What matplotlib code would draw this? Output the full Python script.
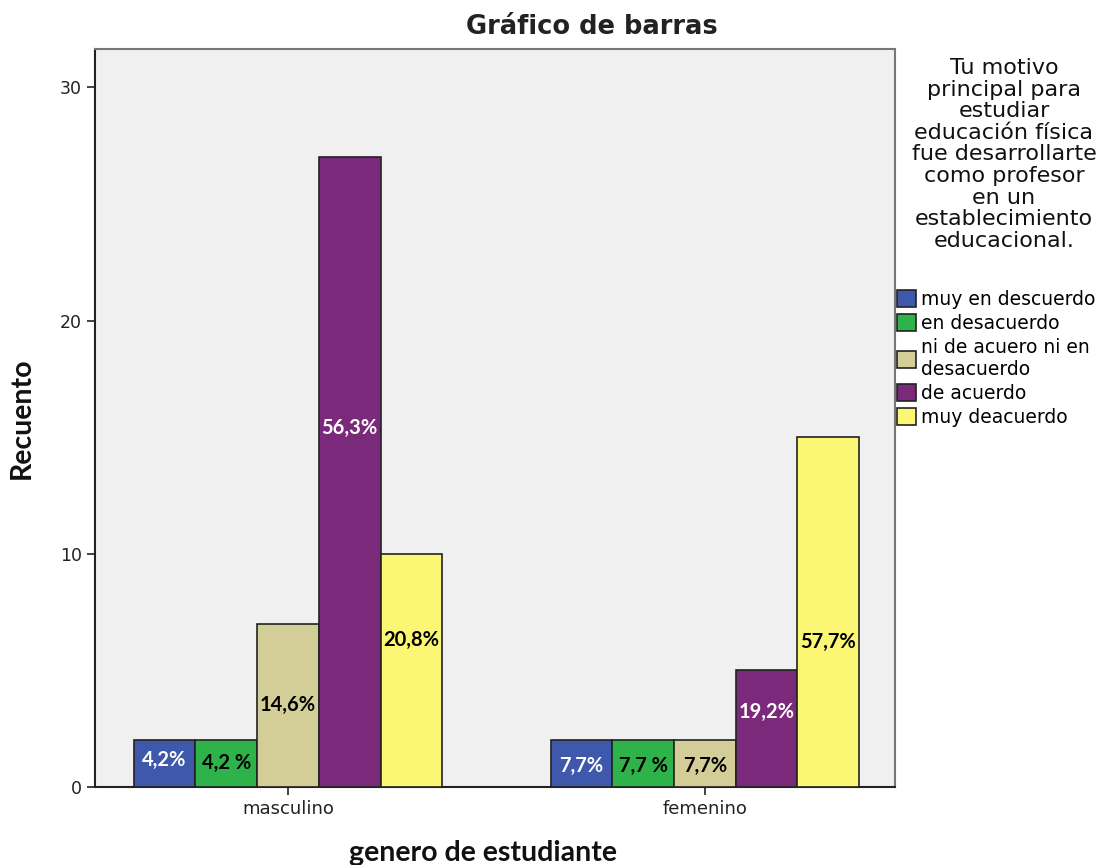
import matplotlib.pyplot as plt
import numpy as np

# data
groups = ["masculino", "femenino"]
categories = ["muy en descuerdo", "en desacuerdo", "ni de acuero ni en\ndesacuerdo",
              "de acuerdo", "muy deacuerdo"]
counts = {
    "masculino": [2, 2, 7, 27, 10],
    "femenino": [2, 2, 2, 5, 15],
}
labels = {
    "masculino": ["4,2%", "4,2 %", "14,6%", "56,3%", "20,8%"],
    "femenino": ["7,7%", "7,7 %", "7,7%", "19,2%", "57,7%"],
}
# vertical position of the percent labels (count units)
label_y = {
    "masculino": [1.15, 1.05, 3.5, 15.4, 6.3],
    "femenino": [0.9, 0.9, 0.9, 3.2, 6.2],
}
colors = ["#3e58ac", "#2db34a", "#d3ce97", "#7b2a7b", "#fbf673"]
text_colors = ["white", "black", "black", "white", "black"]

fig = plt.figure(figsize=(11.04, 8.65), dpi=100)
ax = fig.add_axes([95 / 1104, 1 - 787 / 865, 800 / 1104, 738 / 865])
ax.set_facecolor("#f0f0f0")

width = 0.148
x = np.arange(len(groups))
for i, cat in enumerate(categories):
    vals = [counts[g][i] for g in groups]
    pos = x + (i - 2) * width
    ax.bar(pos, vals, width, color=colors[i], edgecolor="#222222", linewidth=1.2,
           label=cat, zorder=3)
    for j, g in enumerate(groups):
        ax.text(pos[j], label_y[g][i], labels[g][i], ha="center", va="center",
                color=text_colors[i], fontsize=14.5, fontweight="bold",
                family="Lato", zorder=4)

ax.set_xlim(-0.463, 1.456)
ax.set_ylim(0, 31.65)
ax.set_xticks(x)
ax.set_xticklabels(groups, family="DejaVu Sans", fontsize=13, color="#222222")
ax.set_yticks([0, 10, 20, 30])
ax.set_yticklabels(["0", "10", "20", "30"], family="DejaVu Sans", fontsize=12.5,
                   color="#222222")
ax.tick_params(axis="both", direction="out", length=6, width=1.2, color="#222222")

for side in ["left", "bottom"]:
    ax.spines[side].set_color("#222222")
    ax.spines[side].set_linewidth(1.5)
for side in ["top", "right"]:
    ax.spines[side].set_color("#777777")
    ax.spines[side].set_linewidth(1.5)

fig.text(592 / 1104, 1 - 27 / 865, "Gráfico de barras", ha="center", va="center",
         fontsize=18.5, fontweight="bold", family="DejaVu Sans", color="#222222")
fig.text(483 / 1104, 1 - 853 / 865, "genero de estudiante", ha="center", va="center",
         fontsize=20.5, fontweight="bold", family="Lato", color="#111111")
fig.text(22 / 1104, 1 - 418 / 865, "Recuento", ha="center", va="center",
         rotation=90, fontsize=20.5, fontweight="bold", family="Lato",
         color="#111111")

leg_title = ("Tu motivo\nprincipal para\nestudiar\neducación física\nfue desarrollarte\n"
             "como profesor\nen un\nestablecimiento\neducacional.")
fig.text(1004 / 1104, 1 - 58 / 865, leg_title, ha="center", va="top",
         fontsize=16.0, family="DejaVu Sans", color="#111111", linespacing=1.1)

leg = ax.legend(loc="upper left", bbox_to_anchor=(897 / 1104, 1 - 290 / 865),
                bbox_transform=fig.transFigure, frameon=False,
                prop={"family": "DejaVu Sans", "size": 13.5},
                handlelength=1.0, handleheight=1.0, handletextpad=0.3,
                labelspacing=0.27, borderaxespad=0, borderpad=0)

fig.savefig("out.png", dpi=100)
